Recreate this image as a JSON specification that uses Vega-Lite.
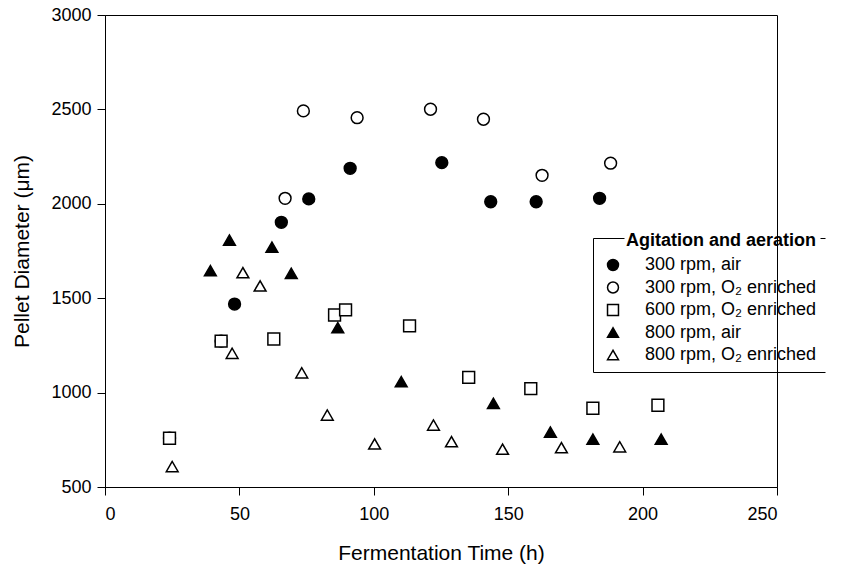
{
  "$schema": "https://vega.github.io/schema/vega-lite/v6.json",
  "width": 672,
  "height": 472,
  "autosize": "none",
  "padding": {"left": 105, "top": 15, "right": 65, "bottom": 78},
  "background": "white",
  "data": {
    "values": [
      {"series": "300 rpm, air", "time": 48.2, "diameter": 1469},
      {"series": "300 rpm, air", "time": 65.6, "diameter": 1902},
      {"series": "300 rpm, air", "time": 75.8, "diameter": 2026},
      {"series": "300 rpm, air", "time": 91.2, "diameter": 2188},
      {"series": "300 rpm, air", "time": 125.3, "diameter": 2218},
      {"series": "300 rpm, air", "time": 143.5, "diameter": 2011},
      {"series": "300 rpm, air", "time": 160.4, "diameter": 2011},
      {"series": "300 rpm, air", "time": 184.0, "diameter": 2029},
      {"series": "300 rpm, O₂ enriched", "time": 24.0, "diameter": 758},
      {"series": "300 rpm, O₂ enriched", "time": 43.2, "diameter": 1273},
      {"series": "300 rpm, O₂ enriched", "time": 67.0, "diameter": 2029},
      {"series": "300 rpm, O₂ enriched", "time": 73.8, "diameter": 2492},
      {"series": "300 rpm, O₂ enriched", "time": 93.8, "diameter": 2456},
      {"series": "300 rpm, O₂ enriched", "time": 121.1, "diameter": 2501},
      {"series": "300 rpm, O₂ enriched", "time": 140.8, "diameter": 2448},
      {"series": "300 rpm, O₂ enriched", "time": 162.6, "diameter": 2151},
      {"series": "300 rpm, O₂ enriched", "time": 188.1, "diameter": 2215},
      {"series": "600 rpm, O₂ enriched", "time": 24.0, "diameter": 758},
      {"series": "600 rpm, O₂ enriched", "time": 43.2, "diameter": 1273},
      {"series": "600 rpm, O₂ enriched", "time": 62.8, "diameter": 1284},
      {"series": "600 rpm, O₂ enriched", "time": 85.4, "diameter": 1411},
      {"series": "600 rpm, O₂ enriched", "time": 89.5, "diameter": 1438},
      {"series": "600 rpm, O₂ enriched", "time": 113.3, "diameter": 1353},
      {"series": "600 rpm, O₂ enriched", "time": 135.3, "diameter": 1081},
      {"series": "600 rpm, O₂ enriched", "time": 158.4, "diameter": 1021},
      {"series": "600 rpm, O₂ enriched", "time": 181.5, "diameter": 917},
      {"series": "600 rpm, O₂ enriched", "time": 205.7, "diameter": 933},
      {"series": "800 rpm, air", "time": 39.2, "diameter": 1646},
      {"series": "800 rpm, air", "time": 46.3, "diameter": 1808},
      {"series": "800 rpm, air", "time": 62.1, "diameter": 1770},
      {"series": "800 rpm, air", "time": 69.3, "diameter": 1632},
      {"series": "800 rpm, air", "time": 86.6, "diameter": 1344},
      {"series": "800 rpm, air", "time": 110.2, "diameter": 1058},
      {"series": "800 rpm, air", "time": 144.5, "diameter": 943},
      {"series": "800 rpm, air", "time": 165.7, "diameter": 791},
      {"series": "800 rpm, air", "time": 181.5, "diameter": 753},
      {"series": "800 rpm, air", "time": 206.9, "diameter": 753},
      {"series": "800 rpm, O₂ enriched", "time": 25.0, "diameter": 608},
      {"series": "800 rpm, O₂ enriched", "time": 47.3, "diameter": 1208},
      {"series": "800 rpm, O₂ enriched", "time": 51.3, "diameter": 1635},
      {"series": "800 rpm, O₂ enriched", "time": 57.7, "diameter": 1565},
      {"series": "800 rpm, O₂ enriched", "time": 73.2, "diameter": 1105},
      {"series": "800 rpm, O₂ enriched", "time": 82.7, "diameter": 881},
      {"series": "800 rpm, O₂ enriched", "time": 100.3, "diameter": 728},
      {"series": "800 rpm, O₂ enriched", "time": 122.2, "diameter": 828},
      {"series": "800 rpm, O₂ enriched", "time": 128.9, "diameter": 740},
      {"series": "800 rpm, O₂ enriched", "time": 147.9, "diameter": 700},
      {"series": "800 rpm, O₂ enriched", "time": 169.8, "diameter": 708},
      {"series": "800 rpm, O₂ enriched", "time": 191.5, "diameter": 713}
    ]
  },
  "mark": {"type": "point", "filled": true, "stroke": "black", "strokeWidth": 1.5, "size": 140, "opacity": 1},
  "encoding": {
    "x": {
      "field": "time", "type": "quantitative",
      "scale": {"domain": [0, 250], "nice": false, "zero": false},
      "axis": {"title": "Fermentation Time (h)", "values": [0, 50, 100, 150, 200, 250], "format": "d", "labelPadding": 10, "titlePadding": 19}
    },
    "y": {
      "field": "diameter", "type": "quantitative",
      "scale": {"domain": [500, 3000], "nice": false, "zero": false},
      "axis": {"title": "Pellet Diameter (μm)", "values": [500, 1000, 1500, 2000, 2500, 3000], "format": "d", "labelPadding": 6, "titlePadding": 18}
    },
    "shape": {
      "field": "series", "type": "nominal",
      "scale": {
        "domain": ["300 rpm, air", "300 rpm, O₂ enriched", "600 rpm, O₂ enriched", "800 rpm, air", "800 rpm, O₂ enriched"],
        "range": ["circle", "circle", "square", "triangle-up", "triangle-up"]
      },
      "legend": {"title": "Agitation and aeration"}
    },
    "fill": {
      "field": "series", "type": "nominal",
      "scale": {
        "domain": ["300 rpm, air", "300 rpm, O₂ enriched", "600 rpm, O₂ enriched", "800 rpm, air", "800 rpm, O₂ enriched"],
        "range": ["black", "white", "white", "black", "white"]
      },
      "legend": {"title": "Agitation and aeration"}
    }
  },
  "config": {
    "view": {"stroke": "black", "strokeWidth": 1},
    "font": "Liberation Sans",
    "axis": {
      "grid": false,
      "domainColor": "black",
      "domainWidth": 1,
      "tickColor": "black",
      "tickWidth": 1,
      "tickSize": 8,
      "labelColor": "black",
      "labelFont": "Liberation Sans",
      "labelFontSize": 18,
      "titleColor": "black",
      "titleFont": "Liberation Sans",
      "titleFontSize": 21,
      "titleFontWeight": "normal"
    },
    "legend": {
      "orient": "none",
      "legendX": 488,
      "legendY": 223,
      "padding": 8,
      "strokeColor": "black",
      "strokeWidth": 1,
      "strokeDash": [31, 196, 5, 134, 5000],
      "titleFont": "Liberation Sans",
      "titleFontSize": 18,
      "titleFontWeight": "bold",
      "titleColor": "black",
      "titleBaseline": "alphabetic",
      "titleAnchor": "end",
      "titlePadding": -8,
      "titleLimit": 500,
      "labelFont": "Liberation Sans",
      "labelFontSize": 18,
      "labelColor": "black",
      "labelLimit": 400,
      "labelOffset": 23,
      "symbolOffset": 3,
      "rowPadding": 4.5,
      "symbolSize": 120,
      "symbolStrokeWidth": 1.5
    }
  }
}
